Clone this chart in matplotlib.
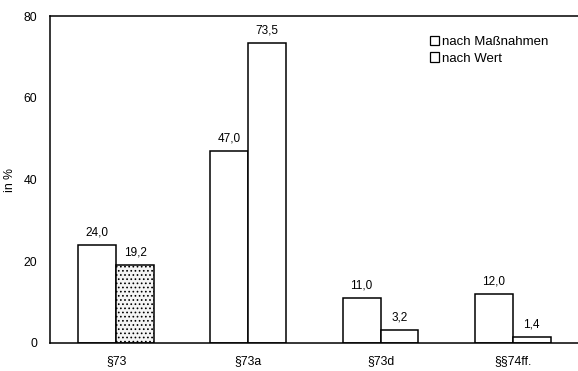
import numpy as np
import matplotlib.pyplot as plt
from matplotlib.patches import Patch

plt.rcParams['font.family'] = ['Liberation Sans', 'DejaVu Sans']
plt.rcParams['hatch.color'] = '#b0b0b0'
plt.rcParams['hatch.linewidth'] = 0.7

# Data
categories = ['§73', '§73a', '§73d', '§§74ff.']
massnahmen = [24.0, 47.0, 11.0, 12.0]
wert = [19.2, 73.5, 3.2, 1.4]
series_names = ['nach Maßnahmen', 'nach Wert']

fig = plt.figure(figsize=(5.78, 3.71), dpi=100)
ax = fig.add_axes([0.0865, 0.0755, 0.915, 0.881])

x = np.arange(len(categories))
w = 0.287

b1 = ax.bar(x - w / 2, massnahmen, w, color='white', edgecolor='black', linewidth=1.1)
b2 = ax.bar(x + w / 2, wert, w, color='white', edgecolor='black', linewidth=1.1)
# stippled fill on the first "nach Wert" bar, as in the scan
b2[0].set_facecolor('#f4f4f4')
b2[0].set_hatch('....')

def fmt(v):
    return f'{v:.1f}'.replace('.', ',')

for rect, v in list(zip(b1, massnahmen)) + list(zip(b2, wert)):
    ax.text(rect.get_x() + rect.get_width() / 2, v + 1.6, fmt(v),
            ha='center', va='bottom', fontsize=8.5)

ax.set_xlim(-0.5, 3.5)
ax.set_ylim(0, 80)
ax.set_yticks([0, 20, 40, 60, 80])
ax.set_xticks(x)
ax.set_xticklabels(categories)
ax.tick_params(axis='both', length=0, labelsize=8.8)
ax.tick_params(axis='y', pad=9)
ax.tick_params(axis='x', pad=9)
ax.set_ylabel('in %', fontsize=8.8, labelpad=6)

ax.spines['right'].set_visible(False)
for s in ['left', 'top', 'bottom']:
    ax.spines[s].set_linewidth(1.1)

handles = [Patch(facecolor='white', edgecolor='black', linewidth=0.9) for _ in series_names]
ax.legend(handles, series_names, loc='upper right', bbox_to_anchor=(0.965, 0.975),
          frameon=False, fontsize=9.5, handlelength=0.7, handleheight=0.7,
          handletextpad=0.25, labelspacing=0.3)

fig.savefig('out.png', dpi=100)
